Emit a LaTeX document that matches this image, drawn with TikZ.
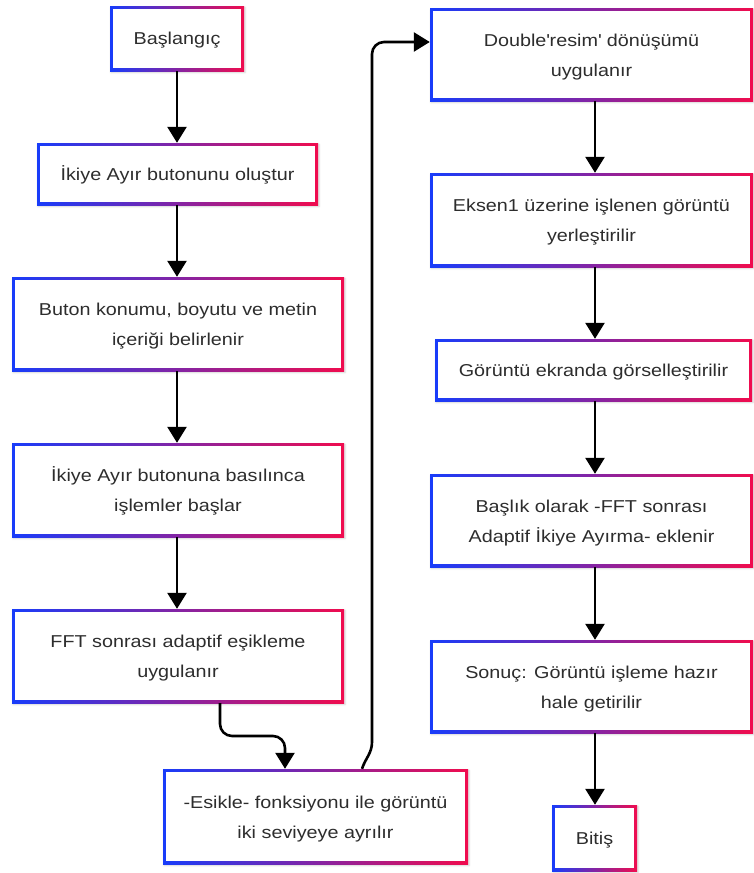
\documentclass[tikz,border=0pt]{standalone}
\usepackage{fontspec}
\setmainfont{Liberation Sans}[FakeStretch=1.15]
\usetikzlibrary{arrows.meta,shadows.blur}

\definecolor{cblue}{RGB}{24,60,250}
\definecolor{cred}{RGB}{240,12,78}
\definecolor{textgray}{RGB}{45,45,45}

\tikzset{
  box/.style={rectangle, inner sep=0pt, left color=cblue, right color=cred,
    blur shadow={shadow xshift=1pt, shadow yshift=-1.5pt, shadow blur steps=5,
      shadow blur radius=2pt, shadow opacity=18},
    path picture={\fill[white]
      ([shift={(2.8pt,2.8pt)}]path picture bounding box.south west) rectangle
      ([shift={(-2.8pt,-2.8pt)}]path picture bounding box.north east);},
    text=textgray, align=center, font=\fontsize{17.2}{30}\selectfont},
  oneline/.style={text height=12.5pt, text depth=0pt},
  twoline/.style={text height=43pt, text depth=0pt},
  conn/.style={line width=2.6pt, draw=black, -{Triangle[width=19pt,length=16pt]}},
}

\begin{document}
\begin{tikzpicture}[x=1pt, y=-1pt]
\useasboundingbox (0,0) rectangle (753,873);

% column guides for the vertical connectors
\coordinate (lx) at (177,0);
\coordinate (rx) at (595,0);

% left column
\node[box, oneline, minimum width=134pt, minimum height=65pt] (b1) at (177,38.5) {Başlangıç};
\node[box, oneline, minimum width=281pt, minimum height=62pt] (b2) at (177.5,174) {İkiye Ayır butonunu oluştur};
\node[box, twoline, minimum width=332pt, minimum height=94pt] (b3) at (178,324) {Buton konumu, boyutu ve metin\\içeriği belirlenir};
\node[box, twoline, minimum width=332pt, minimum height=94pt] (b4) at (178,490) {İkiye Ayır butonuna basılınca\\işlemler başlar};
\node[box, twoline, minimum width=332pt, minimum height=94pt] (b5) at (178,656) {FFT sonrası adaptif eşikleme\\uygulanır};

% bottom step
\node[box, twoline, minimum width=305pt, minimum height=95pt] (b6) at (315.5,816.5) {-Esikle- fonksiyonu ile görüntü\\iki seviyeye ayrılır};

% right column
\node[box, twoline, minimum width=323pt, minimum height=93pt] (b7) at (591.5,54.5) {Double\textquotesingle resim\textquotesingle{} dönüşümü\\uygulanır};
\node[box, twoline, minimum width=323pt, minimum height=94pt] (b8) at (591.5,220) {Eksen1 üzerine işlenen görüntü\\yerleştirilir};
\node[box, oneline, minimum width=317pt, minimum height=62pt] (b9) at (593.5,370) {Görüntü ekranda görselleştirilir};
\node[box, twoline, minimum width=323pt, minimum height=93pt] (b10) at (591.5,520.5) {Başlık olarak -FFT sonrası\\Adaptif İkiye Ayırma- eklenir};
\node[box, twoline, minimum width=323pt, minimum height=93pt] (b11) at (591.5,686.5) {Sonuç: Görüntü işleme hazır\\hale getirilir};
\node[box, oneline, minimum width=85pt, minimum height=66pt] (b12) at (594.5,838) {Bitiş};

% left column connectors
\draw[conn] (b1.south -| lx) -- (b2.north -| lx);
\draw[conn] (b2.south -| lx) -- (b3.north -| lx);
\draw[conn] (b3.south -| lx) -- (b4.north -| lx);
\draw[conn] (b4.south -| lx) -- (b5.north -| lx);

% bend down into the bottom step
\coordinate (k1) at (220,0);
\coordinate (k2) at (285,736);
\draw[conn, rounded corners=12pt] (b5.south -| k1) |- (k2) -- (b6.north -| k2);

% long return up to the right column
\coordinate (u0) at (362,0);
\coordinate (u1) at (372,742);
\coordinate (u2) at (372,42);
\draw[conn] (b6.north -| u0) to[out=72,in=-90] (u1) [rounded corners=12pt] -- (u2) -- (b7.west |- u2);

% right column connectors
\draw[conn] (b7.south -| rx) -- (b8.north -| rx);
\draw[conn] (b8.south -| rx) -- (b9.north -| rx);
\draw[conn] (b9.south -| rx) -- (b10.north -| rx);
\draw[conn] (b10.south -| rx) -- (b11.north -| rx);
\draw[conn] (b11.south -| rx) -- (b12.north -| rx);
\end{tikzpicture}
\end{document}
